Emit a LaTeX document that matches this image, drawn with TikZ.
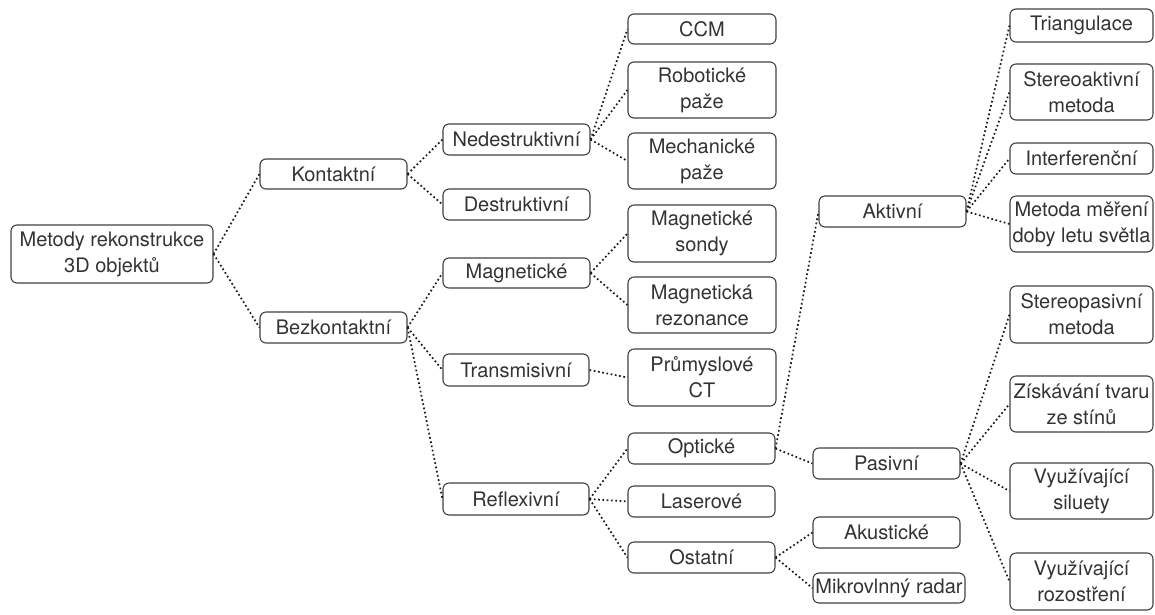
\documentclass[tikz,border=0pt]{standalone}
\usepackage{fontspec}
\setmainfont{TeX Gyre Heros}
\begin{document}
\begin{tikzpicture}[x=1pt,y=-1pt,
  box/.style={draw=black!75, line width=1.1pt, rounded corners=6pt, inner sep=0pt,
    align=center, text=black!80, font=\fontsize{20}{26}\selectfont},
  link/.style={draw=black!90, line width=1.7pt, dash pattern=on 1.7pt off 2.6pt}]
\useasboundingbox (0,0) rectangle (1155,614);
\newcommand{\bx}[6]{\node[box, minimum width=#4pt, minimum height=#5pt] (#1) at (#2,#3) {#6};}
\bx{root}{112}{254}{202}{58}{Metody rekonstrukce\\3D objektů}
\bx{kont}{333.5}{174}{147}{30}{Kontaktní}
\bx{bez}{333.5}{327.5}{147}{31}{Bezkontaktní}
\bx{ned}{516.5}{139.5}{147}{31}{Nedestruktivní}
\bx{des}{516.5}{204.5}{147}{31}{Destruktivní}
\bx{mag}{516.5}{273}{147}{30}{Magnetické}
\bx{tra}{516}{370}{146}{32}{Transmisivní}
\bx{ref}{516}{499}{146}{32}{Reflexivní}
\bx{ccm}{702}{29}{148}{30}{CCM}
\bx{rob}{702}{90}{148}{56}{Robotické\\paže}
\bx{mech}{702}{161}{148}{56}{Mechanické\\paže}
\bx{msond}{702}{233.5}{148}{57}{Magnetické\\sondy}
\bx{mrez}{702}{305}{148}{56}{Magnetická\\rezonance}
\bx{ct}{702}{377.5}{148}{57}{Průmyslové\\CT}
\bx{opt}{701.5}{448.5}{147}{31}{Optické}
\bx{las}{701.5}{501.5}{147}{31}{Laserové}
\bx{ost}{701.5}{557.5}{147}{31}{Ostatní}
\bx{akt}{892.5}{211.5}{147}{31}{Aktivní}
\bx{pas}{886.5}{463.5}{147}{31}{Pasivní}
\bx{aku}{886.5}{532.5}{147}{31}{Akustické}
\bx{mikro}{889}{588}{152}{30}{Mikrovlnný radar}
\bx{tri}{1081.5}{25.5}{143}{33}{Triangulace}
\bx{stra}{1081.5}{92}{143}{56}{Stereoaktivní\\metoda}
\bx{inter}{1081.5}{158.5}{143}{31}{Interferenční}
\bx{tof}{1081.5}{224}{143}{56}{Metoda měření\\doby letu světla}
\bx{strp}{1081.5}{314.5}{143}{57}{Stereopasivní\\metoda}
\bx{ziska}{1081.5}{404}{143}{56}{Získávání tvaru\\ze stínů}
\bx{silu}{1081.5}{491}{143}{56}{Využívající\\siluety}
\bx{rozo}{1081.5}{581.5}{143}{57}{Využívající\\rozostření}
\foreach \a/\b in {root/kont, root/bez, kont/ned, kont/des, bez/mag, bez/tra, bez/ref,
  ned/ccm, ned/rob, ned/mech, mag/msond, mag/mrez, tra/ct, ref/opt, ref/las, ref/ost,
  opt/akt, opt/pas, ost/aku, ost/mikro, akt/tri, akt/stra, akt/inter, akt/tof,
  pas/strp, pas/ziska, pas/silu, pas/rozo}
  \draw[link] (\a.east) -- (\b.west);
\end{tikzpicture}
\end{document}
